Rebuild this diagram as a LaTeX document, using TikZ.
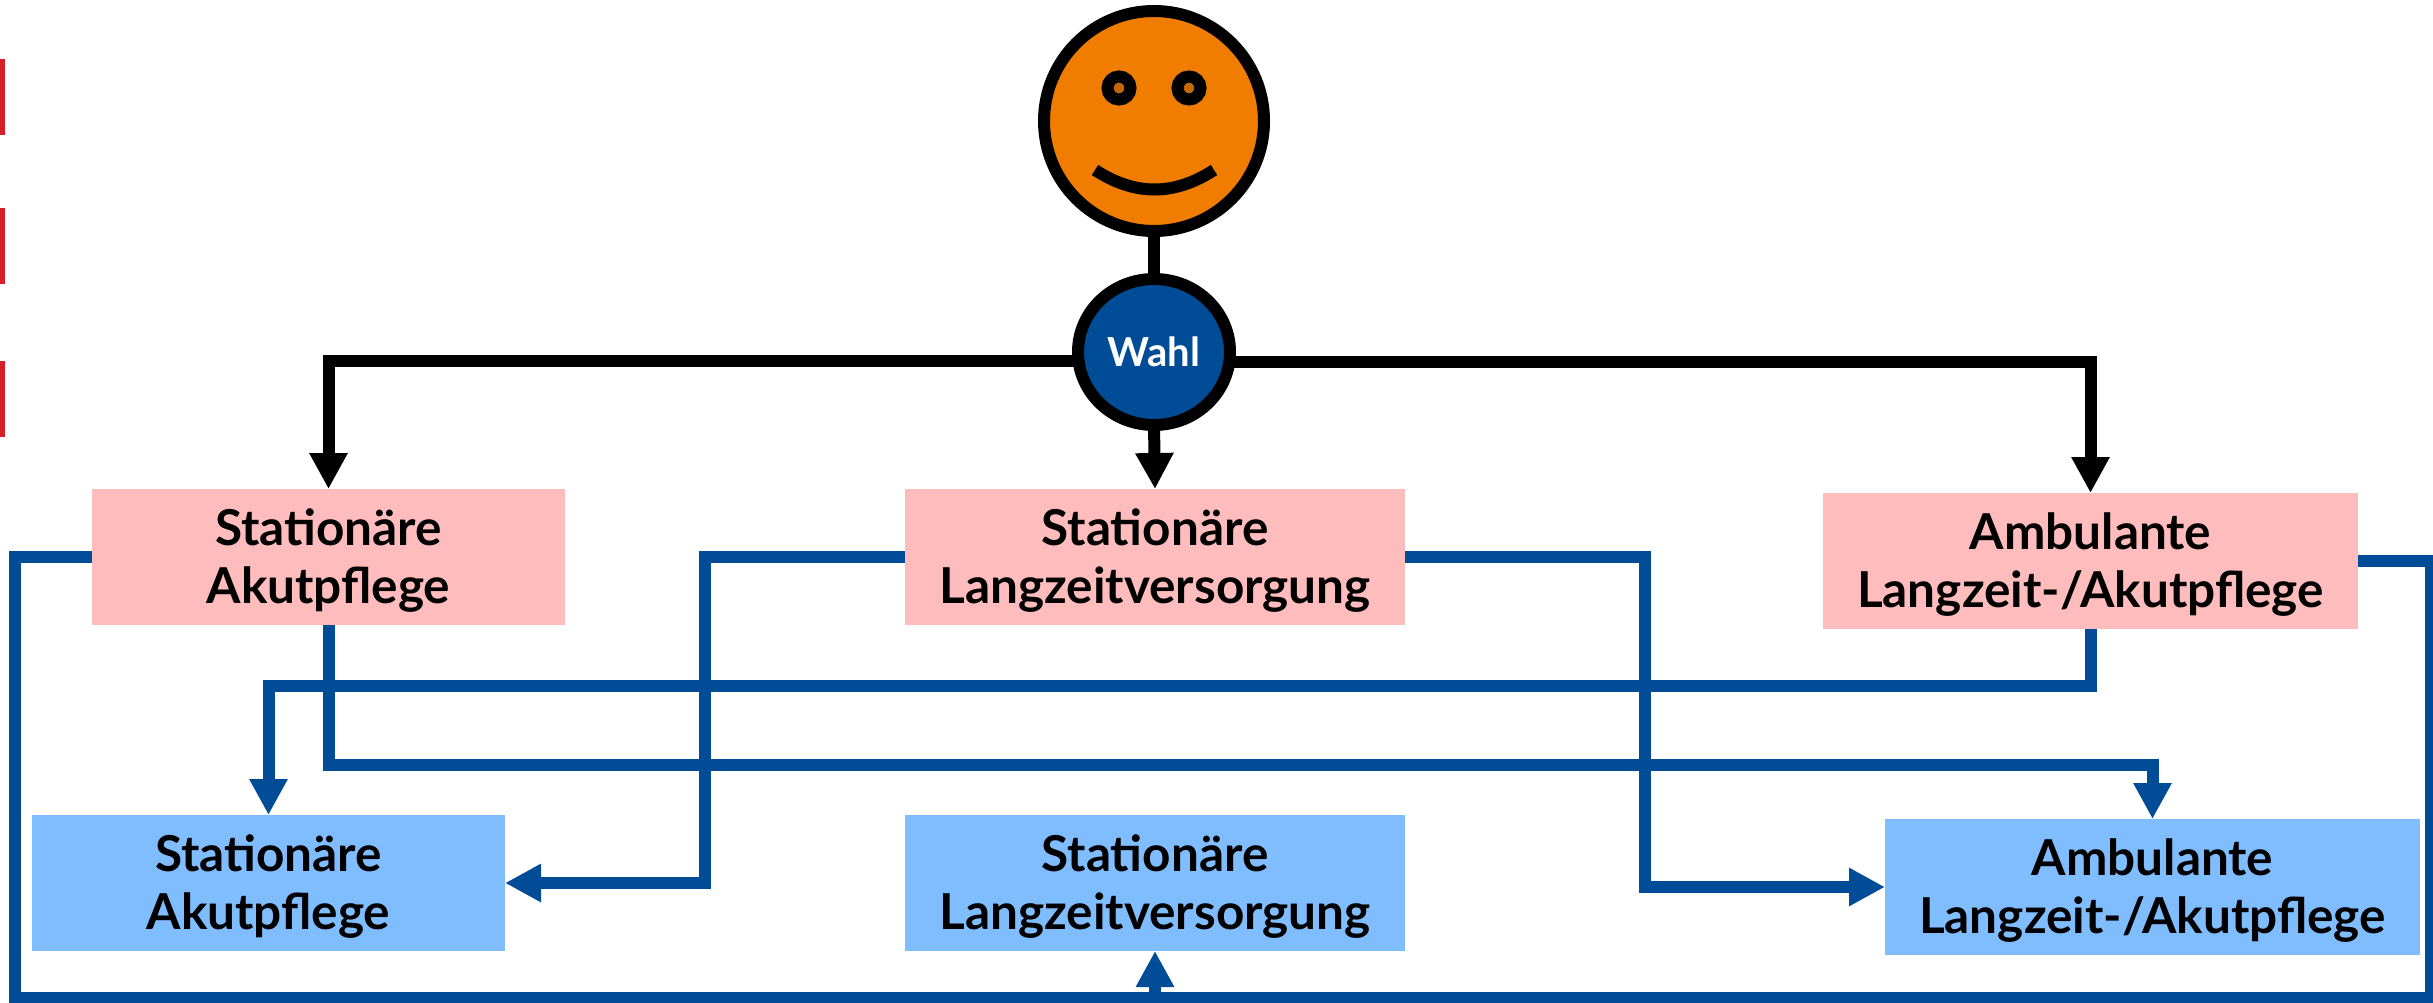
\documentclass[tikz,border=0pt]{standalone}
\usepackage{fontspec}
\setmainfont{Lato}
\usetikzlibrary{arrows.meta,shapes.geometric,backgrounds}
\definecolor{navy}{HTML}{004C97}
\definecolor{orng}{HTML}{F07D00}
\definecolor{dorng}{HTML}{C06A00}
\definecolor{pink}{HTML}{FFBCBC}
\definecolor{sky}{HTML}{80BDFF}
\definecolor{redbar}{HTML}{D42029}
\newcommand\twolines[2]{\rule{0pt}{46pt}#1\\\rule[-12pt]{0pt}{12pt}#2}
\tikzset{
  box/.style={rectangle,inner sep=0pt,outer sep=0pt,align=center,
    font=\fontsize{49.5}{58}\selectfont\bfseries,text=black,anchor=center},
  pinkbox/.style={box,fill=pink},
  skybox/.style={box,fill=sky},
  blk/.style={line width=12pt,draw=black},
  blu/.style={line width=12pt,draw=navy},
  blktip/.style={-{Triangle[length=36pt,width=36pt]}},
  blutip/.style={-{Triangle[length=36pt,width=36pt]}},
  bar/.style={fill=redbar,draw=none},
}
\begin{document}
\begin{tikzpicture}[x=1pt,y=-1pt]
\useasboundingbox (0,0) rectangle (2433,1003);
\fill[bar] (0,59) rectangle (5,135);
\fill[bar] (0,208) rectangle (5,284);
\fill[bar] (0,361) rectangle (5,437);

\node[circle,draw=black,fill=orng,line width=12pt,minimum size=220pt,inner sep=0pt,outer sep=0pt] (face) at (1154,121) {};
\node[circle,draw=black,fill=dorng,line width=12pt,minimum size=23pt,inner sep=0pt,outer sep=0pt] (eyeL) at (1119,88) {};
\node[circle,draw=black,fill=dorng,line width=12pt,minimum size=23pt,inner sep=0pt,outer sep=0pt] (eyeR) at (1189,88) {};
\draw[blk] (1095,170) .. controls (1135,196) and (1174,196) .. (1214,170);

\node[ellipse,draw=black,fill=navy,line width=12pt,minimum width=152pt,minimum height=146pt,inner sep=0pt,outer sep=0pt,
  text=white,font=\fontsize{40}{46}\selectfont\bfseries] (wahl) at (1154,352) {Wahl};

\node[pinkbox,minimum width=473pt,minimum height=136pt] (pa) at (328.5,557) {\twolines{Stationäre}{Akutpflege}};
\node[pinkbox,minimum width=500pt,minimum height=136pt] (pb) at (1155,557) {\twolines{Stationäre}{Langzeitversorgung}};
\node[pinkbox,minimum width=535pt,minimum height=136pt] (pc) at (2090.5,561) {\twolines{Ambulante}{Langzeit-/Akutpflege}};
\node[skybox,minimum width=473pt,minimum height=136pt] (sa) at (268.5,883) {\twolines{Stationäre}{Akutpflege}};
\node[skybox,minimum width=500pt,minimum height=136pt] (sb) at (1155,883) {\twolines{Stationäre}{Langzeitversorgung}};
\node[skybox,minimum width=535pt,minimum height=136pt] (sc) at (2152.5,887) {\twolines{Ambulante}{Langzeit-/Akutpflege}};

\coordinate (loopL) at (15,998);
\coordinate (loopR) at (2431,998);
\coordinate (loopM) at (1155,998);

\begin{scope}[on background layer]
\draw[blk] (face.south) -- (wahl.north);
\draw[blk,blktip] ([yshift=-9pt]wahl.center) -| (pa.north);
\draw[blk,blktip] (wahl.south) -- (pb.north);
\draw[blk,blktip] ([yshift=-10pt]wahl.center) -| (pc.north);
\end{scope}

\draw[blu,blutip] (pa.south) |- (1000,765) -| (sc.north);
\draw[blu,blutip] (pc.south) |- (1000,686) -| (sa.north);
\draw[blu,blutip] (pb.west) -| (705,883) -- (sa.east);
\draw[blu,blutip] (pb.east) -| (1645,887) -- (sc.west);
\draw[blu] (pa.west) -| (loopL) -- (loopR) |- (pc.east);
\draw[blu,blutip] (loopM) -- (sb.south);
\end{tikzpicture}
\end{document}
